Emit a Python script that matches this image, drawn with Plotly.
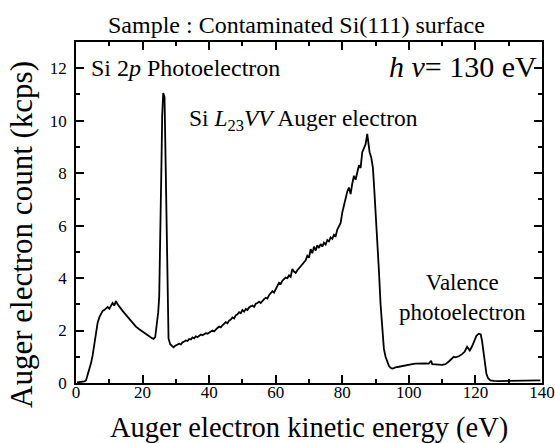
import plotly.graph_objects as go

# ---- data ----
energy_ev = [0.3, 1, 2, 2.5, 3, 3.5, 4, 4.5, 5, 5.5, 6, 6.5, 7, 7.5, 8, 8.5, 9, 9.5, 10, 10.5,
             11, 11.5, 12, 12.5, 13, 13.5, 14, 15, 16, 17, 18, 19, 20, 21, 22, 22.7, 23.3, 23.8,
             24.2, 24.7, 25.0, 25.3, 25.6, 25.9, 26.2, 26.6, 26.9, 27.2, 27.5, 27.8, 28.3, 28.8, 29.3, 29.8,
             30.5, 31, 31.5, 32, 32.5, 33, 33.5, 34, 34.5, 35, 35.5, 36, 36.5, 37, 37.5, 38, 38.5, 39, 39.5,
             40, 40.5, 41, 41.5, 42, 42.5, 43, 43.5, 44, 44.5, 45, 45.5, 46, 46.5, 47, 47.5, 48, 48.5, 49, 49.5,
             50, 50.5, 51, 51.5, 52, 52.5, 53, 53.5, 54, 54.5, 55, 55.5, 56, 56.5, 57, 57.5, 58, 58.5, 59, 59.5,
             60, 60.5, 61, 61.5, 62, 62.5, 63, 63.5, 64, 64.5, 65, 65.5, 66, 66.5, 67, 67.5, 68, 68.5, 69, 69.5,
             70, 70.5, 71, 71.5, 72, 72.5, 73, 73.5, 74, 74.5, 75, 75.5, 76, 76.5, 77, 77.5, 78, 78.5, 79, 79.5,
             80, 80.5, 81, 81.5, 82, 82.5, 83, 83.5, 84, 84.5, 85, 85.5, 86, 86.5, 87, 87.5, 87.8, 88.2, 88.7,
             89.2, 89.6, 90, 90.5, 91, 91.5, 92, 92.5, 93, 93.5, 94, 94.5, 95, 95.5, 96, 97, 98, 99,
             100, 101, 102, 103, 104, 105, 106, 106.7, 107, 108, 109, 110, 111, 112, 112.8, 113.5, 114, 115,
             116, 116.8, 117.5, 118.3, 119, 119.6, 120.3, 121, 121.6, 122, 122.4, 122.8, 123.3, 123.8, 124.5,
             125.5, 127, 130, 133, 136, 139.5]
count_kcps = [0.02, 0.03, 0.04, 0.06, 0.1, 0.3, 0.5, 0.75, 1.05, 1.5, 2.0, 2.3, 2.5, 2.65, 2.75, 2.78, 2.85, 2.9, 2.83, 2.95,
              3.05, 2.95, 3.12, 3.0, 2.9, 2.85, 2.75, 2.6, 2.45, 2.28, 2.15, 2.05, 1.95, 1.88, 1.78, 1.72, 1.68, 1.75,
              2.2, 2.7, 3.3, 5.0, 7.8, 10.2, 11.05, 10.9, 8.5, 5.5, 2.6, 1.7, 1.48, 1.4, 1.36, 1.42,
              1.45, 1.5, 1.47, 1.55, 1.58, 1.62, 1.6, 1.68, 1.66, 1.74, 1.7, 1.78, 1.75, 1.8, 1.85, 1.82, 1.86, 1.9, 1.88,
              1.93, 1.96, 2.0, 1.97, 2.05, 2.1, 2.15, 2.12, 2.2, 2.25, 2.32, 2.28, 2.38, 2.42, 2.5, 2.46, 2.58, 2.62, 2.7, 2.66,
              2.78, 2.72, 2.82, 2.78, 2.88, 2.92, 2.95, 2.9, 3.02, 3.05, 3.1, 3.05, 3.15, 3.2, 3.25, 3.22, 3.35, 3.42, 3.5, 3.45,
              3.6, 3.7, 3.82, 3.78, 3.9, 3.95, 4.02, 4.0, 4.1, 4.05, 4.35, 4.25, 4.2, 4.3, 4.38, 4.45, 4.55, 4.6, 4.68, 4.85,
              4.78, 5.1, 4.95, 5.2, 5.05, 5.25, 5.15, 5.3, 5.2, 5.35, 5.28, 5.45, 5.4, 5.55, 5.5, 5.65, 5.6, 5.85, 6.0, 6.1,
              6.5, 6.8, 7.0, 7.3, 7.45, 7.2, 7.6, 7.9, 7.75, 8.1, 8.3, 8.2, 8.8, 8.95, 9.1, 9.5, 9.2, 8.8, 8.6,
              8.2, 7.4, 6.6, 5.5, 4.3, 3.0, 1.9, 1.3, 1.0, 0.8, 0.66, 0.58, 0.55, 0.57, 0.6, 0.62, 0.65, 0.68,
              0.7, 0.72, 0.74, 0.75, 0.76, 0.75, 0.74, 0.85, 0.72, 0.72, 0.7, 0.69, 0.72, 0.82, 0.9, 1.0, 0.98, 1.02,
              1.1, 1.2, 1.38, 1.24, 1.4, 1.6, 1.8, 1.88, 1.85, 1.6, 1.2, 0.75, 0.35, 0.18, 0.1,
              0.08, 0.07, 0.08, 0.08, 0.09, 0.1]

x_tick_vals = [0, 20, 40, 60, 80, 100, 120, 140]
y_tick_vals = [0, 2, 4, 6, 8, 10, 12]

title_text = "Sample : Contaminated Si(111) surface"
x_title = "Auger electron kinetic energy (eV)"
y_title = "Auger electron count (kcps)"

SERIF = "Liberation Serif"

fig = go.Figure()
fig.add_trace(go.Scatter(x=energy_ev, y=count_kcps, mode="lines",
                         line=dict(color="black", width=1.8), showlegend=False,
                         hoverinfo="skip"))

axis_common = dict(showline=True, linecolor="black", linewidth=1.5, mirror="allticks",
                   ticks="inside", ticklen=8, tickwidth=1.5, tickcolor="black",
                   showgrid=False, zeroline=False, automargin=False,
                   tickfont=dict(family=SERIF, size=17, color="black"))

fig.update_xaxes(range=[0, 140], tickvals=x_tick_vals, ticklabelstandoff=-7,
                 minor=dict(dtick=10, ticks="inside", ticklen=4, tickwidth=1.5, tickcolor="black"),
                 **axis_common)
fig.update_yaxes(range=[0, 13], tickvals=y_tick_vals, ticklabelstandoff=4,
                 minor=dict(dtick=1, ticks="inside", ticklen=4, tickwidth=1.5, tickcolor="black"),
                 **axis_common)

def ann(text, x, y, size, xanchor="center", xref="x", yref="y", angle=0):
    fig.add_annotation(text=text, x=x, y=y, xref=xref, yref=yref, showarrow=False,
                       xanchor=xanchor, yanchor="middle", textangle=angle,
                       font=dict(family=SERIF, size=size, color="black"))

ann(title_text, 0.474, 1.05, 24, xref="paper", yref="paper")
ann(x_title, 0.5, -0.132, 28.5, xref="paper", yref="paper")
ann(y_title, -0.116, 0.437, 31, xref="paper", yref="paper", angle=-90)
ann("Si 2<i>p</i> Photoelectron", 3.9, 12.02, 24, xanchor="left")
ann("<i>h ν</i>= 130 eV", 139.1, 12.05, 30, xanchor="right")
ann("Si <i>L</i><sub>23</sub><i>VV</i> Auger electron", 33.4, 10.03, 23.5, xanchor="left")
ann("Valence<br>photoelectron", 116, 3.26, 23)

fig.update_layout(width=555, height=443, margin=dict(l=76, r=13, t=42, b=60),
                  plot_bgcolor="white", paper_bgcolor="white",
                  font=dict(family=SERIF, color="black"))

fig.write_html("out.html", config={"displayModeBar": False},
               post_script="document.body.style.margin='0px';document.body.style.padding='0px';")
